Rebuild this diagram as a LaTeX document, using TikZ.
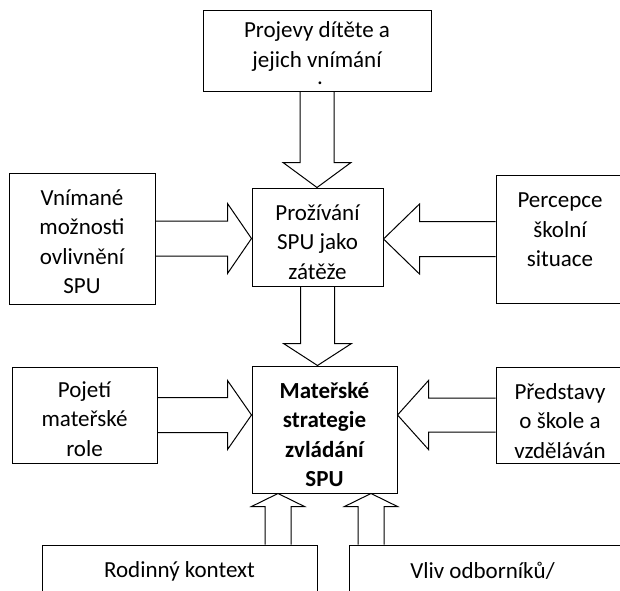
\documentclass[tikz,border=0pt]{standalone}
\usepackage{fontspec}
\setmainfont{Carlito}
\usetikzlibrary{calc}

\tikzset{
  box/.style={draw, inner sep=0pt},
  txt/.style={align=center, inner sep=0pt, font=\fontsize{23}{29.5}\selectfont},
  % hollow wide arrow: shaft half width, head half width, head length
  blk/.style n args={3}{to path={
    let \p1=($(\tikztotarget)!#3!(\tikztostart)$) in
    ($(\tikztostart)!#1!90:(\tikztotarget)$) -- ($(\p1)!#1!90:(\tikztotarget)$)
    -- ($(\p1)!#2!90:(\tikztotarget)$) -- (\tikztotarget)
    -- ($(\p1)!#2!-90:(\tikztotarget)$) -- ($(\p1)!#1!-90:(\tikztotarget)$)
    -- ($(\tikztostart)!#1!-90:(\tikztotarget)$)}}
}

\begin{document}
\begin{tikzpicture}[x=1pt,y=-1pt,line width=1pt]  % pixel units, y going down

\useasboundingbox (0,0) rectangle (620,590);
\clip (0,0) rectangle (620,590);

% top box
\node[box, minimum width=228, minimum height=81] (top) at (317,50.5) {};
\node[txt] (toptxt) at ($(top)+(0,-4)$) {Projevy dítěte a\\jejich vnímání};
\node[txt] (dot) at (320,83) {.};

% first row
\node[box, minimum width=146, minimum height=131] (vnim) at (82,238.5) {};
\node[txt] (vnimtxt) at ($(vnim)+(0,3)$) {Vnímané\\možnosti\\ovlivnění\\SPU};
\node[box, minimum width=131, minimum height=98] (proz) at (317.5,237) {};
\node[txt] (proztxt) at ($(proz)+(0,5)$) {Prožívání\\SPU jako\\zátěže};
\node[box, minimum width=128, minimum height=128] (perc) at (560,239) {};
\node[txt] (perctxt) at ($(perc)+(0,-9)$) {Percepce\\školní\\situace};

% second row
\node[box, minimum width=145, minimum height=96] (poj) at (84.5,415) {};
\node[txt] (pojtxt) at ($(poj)+(0,4)$) {Pojetí\\mateřské\\role};
\node[box, minimum width=145, minimum height=127] (mat) at (324.5,429.5) {};
\node[txt, font=\fontsize{23}{29.5}\selectfont\bfseries] (mattxt) at ($(mat)+(0,5)$) {Mateřské\\strategie\\zvládání\\SPU};
\node[box, minimum width=128, minimum height=96] (pred) at (560,415) {};
\node[txt] (predtxt) at ($(pred)+(0,6)$) {Představy\\o škole a\\vzděláván};

% bottom boxes, cut by the page
\node[box, minimum width=275, minimum height=52] (rod) at (179.5,571) {};
\node[txt] (rodtxt) at (rod) {Rodinný kontext};
\node[box, minimum width=273, minimum height=52] (vliv) at (485.5,571) {};
\node[txt] (vlivtxt) at ($(vliv)+(-3,0)$) {Vliv odborníků/};

% arrows
\draw (top.south) to[blk={17pt}{34pt}{25pt}] (top.south |- proz.north);
\draw (proz.south) to[blk={17pt}{34pt}{22pt}] (proz.south |- mat.north);
\draw (vnim.east) to[blk={17.5pt}{35pt}{24pt}] (vnim.east -| proz.west);
\draw (perc.west) to[blk={17.5pt}{35pt}{36pt}] (perc.west -| proz.east);
\draw (poj.east) to[blk={17.5pt}{34.5pt}{24pt}] (poj.east -| mat.west);
\draw (pred.west) to[blk={17pt}{34.5pt}{31pt}] (pred.west -| mat.east);

\coordinate (rodup) at (278,0);
\coordinate (vlivup) at (371,0);
\draw (rod.north -| rodup) to[blk={13pt}{26.5pt}{13pt}] (mat.south -| rodup);
\draw (vliv.north -| vlivup) to[blk={13pt}{26.5pt}{13pt}] (mat.south -| vlivup);

\end{tikzpicture}
\end{document}
